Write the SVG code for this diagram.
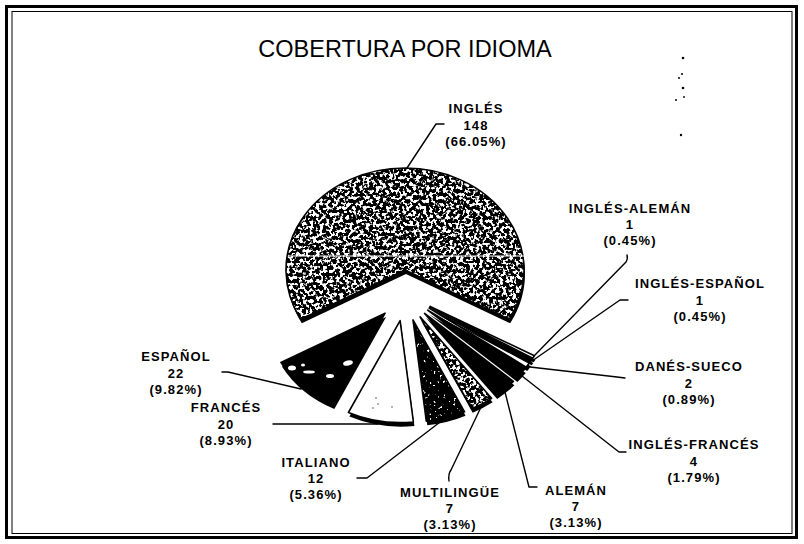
<svg xmlns="http://www.w3.org/2000/svg" width="804" height="544" viewBox="0 0 804 544">
<defs>
<style>
.t{font-family:"Liberation Sans",Arial,sans-serif;fill:#000}
.title{font-size:23.5px;text-anchor:middle}
.lbl{font-size:13px;font-weight:bold;text-anchor:middle;letter-spacing:1.1px}
.ld{fill:none;stroke:#000;stroke-width:1.4;stroke-linejoin:round;stroke-linecap:round}
.ol{stroke:#000;stroke-width:1.6;stroke-linejoin:round}
.sh{fill:#000}
.blob{fill:#fff}
</style>
<filter id="stipple" x="0" y="0" width="1" height="1" color-interpolation-filters="sRGB">
<feTurbulence type="fractalNoise" baseFrequency="0.3" numOctaves="2" seed="7" result="n"/>
<feColorMatrix in="n" type="matrix" values="0 0 0 0 0  0 0 0 0 0  0 0 0 0 0  -12 0 0 0 6.9" result="sp"/>
<feComposite in="sp" in2="SourceGraphic" operator="in" result="c"/>
<feMerge><feMergeNode in="SourceGraphic"/><feMergeNode in="c"/></feMerge>
</filter>
<filter id="dark" x="0" y="0" width="1" height="1" color-interpolation-filters="sRGB">
<feTurbulence type="fractalNoise" baseFrequency="0.3" numOctaves="2" seed="3" result="n"/>
<feColorMatrix in="n" type="matrix" values="0 0 0 0 0  0 0 0 0 0  0 0 0 0 0  -14 0 0 0 10.5" result="sp"/>
<feComposite in="sp" in2="SourceGraphic" operator="in" result="c"/>
<feMerge><feMergeNode in="SourceGraphic"/><feMergeNode in="c"/></feMerge>
</filter>
</defs>
<rect width="804" height="544" fill="#fff"/>
<g id="frame" fill="none" stroke="#000">
<rect x="6.5" y="6.5" width="790" height="531" stroke-width="3"/>
<rect x="12" y="11.5" width="780" height="522" stroke-width="1"/>
</g>
<text class="t title" x="405" y="57">COBERTURA POR IDIOMA</text>
<g id="specks" fill="#000">
<circle cx="683" cy="58" r="1.3"/><circle cx="682" cy="74" r="1"/><circle cx="679" cy="78" r="1"/><circle cx="683" cy="88" r="1.3"/><circle cx="684" cy="97" r="0.9"/><circle cx="676" cy="100" r="1"/><circle cx="681" cy="135" r="1.2"/>
</g>
<g id="slice-ingles">
<path class="sh" transform="translate(1,4)" d="M405,270 L509.2,319.3 A119,102 0 1 0 300.8,319.3 Z"/>
<path fill="#fff" filter="url(#stipple)" d="M405,270 L509.2,319.3 A119,102 0 1 0 300.8,319.3 Z"/>
<path class="ol" fill="none" d="M405,270 L509.2,319.3 A119,102 0 1 0 300.8,319.3 Z"/>
<line x1="288" y1="256" x2="525" y2="256" stroke="#fff" stroke-width="1.2"/>
<text class="t lbl" x="476" y="113"><tspan x="476">INGLÉS</tspan><tspan x="476" dy="16.5">148</tspan><tspan x="476" dy="16.5">(66.05%)</tspan></text>
</g>
<g id="slice-espanol">
<path class="sh" transform="translate(1,4)" d="M385.1,313.1 L280.9,362.4 A119,102 0 0 0 333.3,404.9 Z"/>
<path fill="#000" class="ol" d="M385.1,313.1 L280.9,362.4 A119,102 0 0 0 333.3,404.9 Z"/>
<ellipse class="blob" cx="292" cy="368" rx="4" ry="2.5"/><ellipse class="blob" cx="309" cy="372" rx="6" ry="1.6"/><ellipse class="blob" cx="330" cy="376" rx="4" ry="2"/><ellipse class="blob" cx="348" cy="363" rx="5" ry="2.5" transform="rotate(-15 348 363)"/><ellipse class="blob" cx="303" cy="365" rx="2" ry="1.5"/>
<text class="t lbl" x="176" y="361"><tspan x="176">ESPAÑOL</tspan><tspan x="176" dy="16.5">22</tspan><tspan x="176" dy="16.5">(9.82%)</tspan></text>
</g>
<g id="slice-frances">
<path class="sh" transform="translate(1,4)" d="M400.1,320.6 L348.4,412.5 A119,102 0 0 0 413.4,422 Z"/>
<path fill="#fff" class="ol" d="M400.1,320.6 L348.4,412.5 A119,102 0 0 0 413.4,422 Z"/>
<g fill="#555"><circle cx="376" cy="398" r="0.8"/><circle cx="378" cy="404" r="0.8"/><circle cx="392" cy="407" r="0.8"/><circle cx="373" cy="408" r="0.8"/></g>
<text class="t lbl" x="226" y="412"><tspan x="226">FRANCÉS</tspan><tspan x="226" dy="16.5">20</tspan><tspan x="226" dy="16.5">(8.93%)</tspan></text>
</g>
<g id="slice-italiano">
<path class="sh" transform="translate(1,4)" d="M413,319.9 L426.3,421.2 A119,102 0 0 0 464.6,411.8 Z"/>
<path fill="#fff" filter="url(#dark)" d="M413,319.9 L426.3,421.2 A119,102 0 0 0 464.6,411.8 Z"/>
<path class="ol" fill="none" d="M413,319.9 L426.3,421.2 A119,102 0 0 0 464.6,411.8 Z"/>
<text class="t lbl" x="316" y="467"><tspan x="316">ITALIANO</tspan><tspan x="316" dy="16">12</tspan><tspan x="316" dy="16">(5.36%)</tspan></text>
</g>
<g id="slice-multilingue">
<path class="sh" transform="translate(1,4)" d="M420.1,316.8 L471.7,408.7 A119,102 0 0 0 491.6,398.3 Z"/>
<path fill="#fff" filter="url(#stipple)" d="M420.1,316.8 L471.7,408.7 A119,102 0 0 0 491.6,398.3 Z"/>
<path class="ol" fill="none" d="M420.1,316.8 L471.7,408.7 A119,102 0 0 0 491.6,398.3 Z"/>
<text class="t lbl" x="450" y="497"><tspan x="450">MULTILINGÜE</tspan><tspan x="450" dy="16">7</tspan><tspan x="450" dy="16">(3.13%)</tspan></text>
</g>
<g id="slice-aleman">
<path class="sh" transform="translate(1,4)" d="M424.6,313.4 L496.2,394.9 A119,102 0 0 0 513.4,381.3 Z"/>
<path fill="#000" class="ol" d="M424.6,313.4 L496.2,394.9 A119,102 0 0 0 513.4,381.3 Z"/>
<text class="t lbl" x="576" y="495"><tspan x="576">ALEMÁN</tspan><tspan x="576" dy="16">7</tspan><tspan x="576" dy="16">(3.13%)</tspan></text>
</g>
<g id="slice-ingles-frances">
<path class="sh" transform="translate(1,4)" d="M427.7,310.1 L516.4,378 A119,102 0 0 0 524.8,369.1 Z"/>
<path fill="#000" class="ol" d="M427.7,310.1 L516.4,378 A119,102 0 0 0 524.8,369.1 Z"/>
<text class="t lbl" x="694" y="449"><tspan x="694">INGLÉS-FRANCÉS</tspan><tspan x="694" dy="16.5">4</tspan><tspan x="694" dy="16.5">(1.79%)</tspan></text>
</g>
<g id="slice-danes-sueco">
<path class="sh" transform="translate(1,4)" d="M429.1,308.1 L526.2,367.1 A119,102 0 0 0 529.9,362.3 Z"/>
<path fill="#fff" class="ol" d="M429.1,308.1 L526.2,367.1 A119,102 0 0 0 529.9,362.3 Z"/>
<text class="t lbl" x="689" y="371"><tspan x="689">DANÉS-SUECO</tspan><tspan x="689" dy="16.5">2</tspan><tspan x="689" dy="16.5">(0.89%)</tspan></text>
</g>
<g id="slice-ingles-espanol">
<path class="sh" transform="translate(1,4)" d="M429.8,307.1 L530.6,361.3 A119,102 0 0 0 532.3,358.9 Z"/>
<path fill="#000" class="ol" d="M429.8,307.1 L530.6,361.3 A119,102 0 0 0 532.3,358.9 Z"/>
<text class="t lbl" x="700" y="288"><tspan x="700">INGLÉS-ESPAÑOL</tspan><tspan x="700" dy="16.5">1</tspan><tspan x="700" dy="16.5">(0.45%)</tspan></text>
</g>
<g id="slice-ingles-aleman">
<path class="sh" transform="translate(1,4)" d="M430.2,306.4 L532.7,358.2 A119,102 0 0 0 534.4,355.7 Z"/>
<path fill="#fff" class="ol" d="M430.2,306.4 L532.7,358.2 A119,102 0 0 0 534.4,355.7 Z"/>
<text class="t lbl" x="630" y="213"><tspan x="630">INGLÉS-ALEMÁN</tspan><tspan x="630" dy="16">1</tspan><tspan x="630" dy="16">(0.45%)</tspan></text>
</g>
<g id="connectors">
<path class="ld" d="M444,124 L436,124 L407,168"/>
<path class="ld" d="M222,372 L228,372 L301,389"/>
<path class="ld" d="M273,424 L378,424"/>
<path class="ld" d="M357,478 L367,478 L444,419"/>
<path class="ld" d="M482,405 L451,470 Q448,474 449,481"/>
<path class="ld" d="M505,392 L529,487 L537,487"/>
<path class="ld" d="M522,376 L619,452 L626,452"/>
<path class="ld" d="M530,367 L617,377 L625,378"/>
<path class="ld" d="M532,361 L620,300 L628,300"/>
<path class="ld" d="M534,356 L626,262 Q628,259 627,255"/>
</g>
</svg>
